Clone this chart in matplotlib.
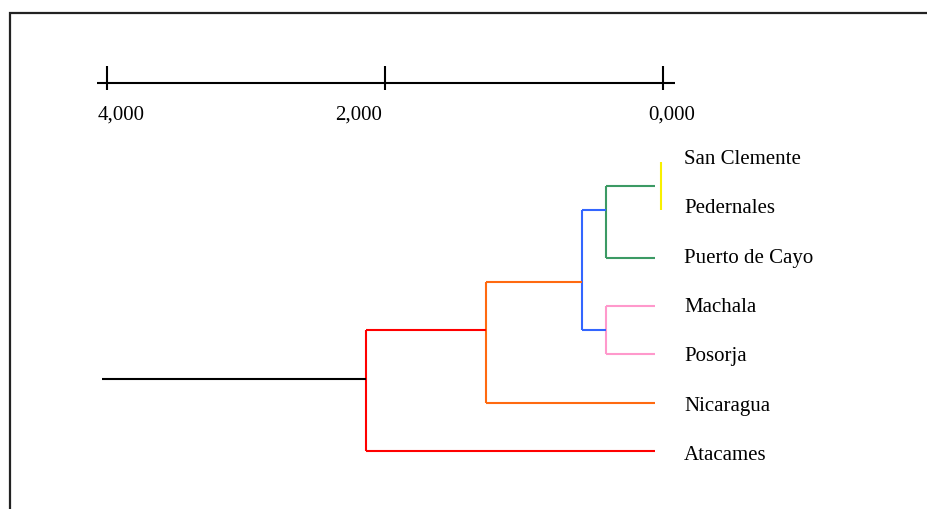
import matplotlib
matplotlib.use("Agg")
import matplotlib.pyplot as plt
from matplotlib.patches import Rectangle

# ---- data ----
leaves = ["San Clemente", "Pedernales", "Puerto de Cayo", "Machala",
          "Posorja", "Nicaragua", "Atacames"]
# internal nodes: name, children, merge distance, colour, attach row
node_names = ["yellow", "green", "pink", "blue", "orange", "red"]
node_children = [(0, 1), ("yellow", 2), (3, 4), ("green", "pink"),
                 ("blue", 5), ("orange", 6)]
node_heights = [0.014, 0.412, 0.412, 0.583, 1.276, 2.139]
node_colors = ["#F8F000", "#3C9A64", "#FF99CC", "#3366FF", "#FF6A10", "#FF0000"]
node_rows = [0.5, 1.0, 3.5, 2.5, 3.5, 4.5]
root_extent = 4.038
leaf_end = 0.058

scale_ticks = [4.0, 2.0, 0.0]
scale_labels = ["4,000", "2,000", "0,000"]

# ---- figure ----
fig = plt.figure(figsize=(9.28, 5.10), dpi=100)
ax = fig.add_axes([0, 0, 1, 1])
ax.set_xlim(4.770, -1.906)
ax.set_ylim(7.211, -3.387)
ax.axis("off")

LW = 1.5
FONT = "Liberation Serif"

# frame
fig.patches.append(Rectangle((10.5 / 928, -0.2), 1.2, 1 - 14 / 510 + 0.2,
                             transform=fig.transFigure, fill=False,
                             edgecolor="#222222", linewidth=1.6, clip_on=False))

# tree
info = {}
for i, _ in enumerate(leaves):
    info[i] = (leaf_end, float(i))
for name, ch, h, c, r in zip(node_names, node_children, node_heights,
                             node_colors, node_rows):
    ys = [info[k][1] for k in ch]
    ax.plot([h, h], [min(ys), max(ys)], color=c, lw=LW, solid_capstyle="butt")
    if h > leaf_end:
        for k in ch:
            ch_h, ch_y = info[k]
            ax.plot([h, max(ch_h, leaf_end)], [ch_y, ch_y], color=c, lw=LW,
                    solid_capstyle="butt")
    info[name] = (h, r)

# root stub
rh, ry = info["red"]
ax.plot([rh, root_extent], [ry, ry], color="black", lw=LW, solid_capstyle="butt")

# leaf labels (label spacing in the original is slightly wider than the rows)
for i, lab in enumerate(leaves):
    ax.annotate(lab, xy=(0.0, i), xytext=(21, -1 - 1.21 * i),
                textcoords="offset pixels",
                ha="left", va="baseline", fontsize=15, family=FONT)

# scale bar
bar_row = -1.642
ax.plot([4.074, -0.086], [bar_row, bar_row], color="black", lw=LW,
        solid_capstyle="butt")
label_dx = [14, -26, 9]
for t, lab, dx in zip(scale_ticks, scale_labels, label_dx):
    ax.plot([t, t], [bar_row - 0.347, bar_row + 0.139], color="black", lw=LW,
            solid_capstyle="butt")
    ax.annotate(lab, xy=(t, bar_row), xytext=(dx, -31),
                textcoords="offset pixels", ha="center", va="center",
                fontsize=15, family=FONT)

fig.savefig("out.png", dpi=100)
